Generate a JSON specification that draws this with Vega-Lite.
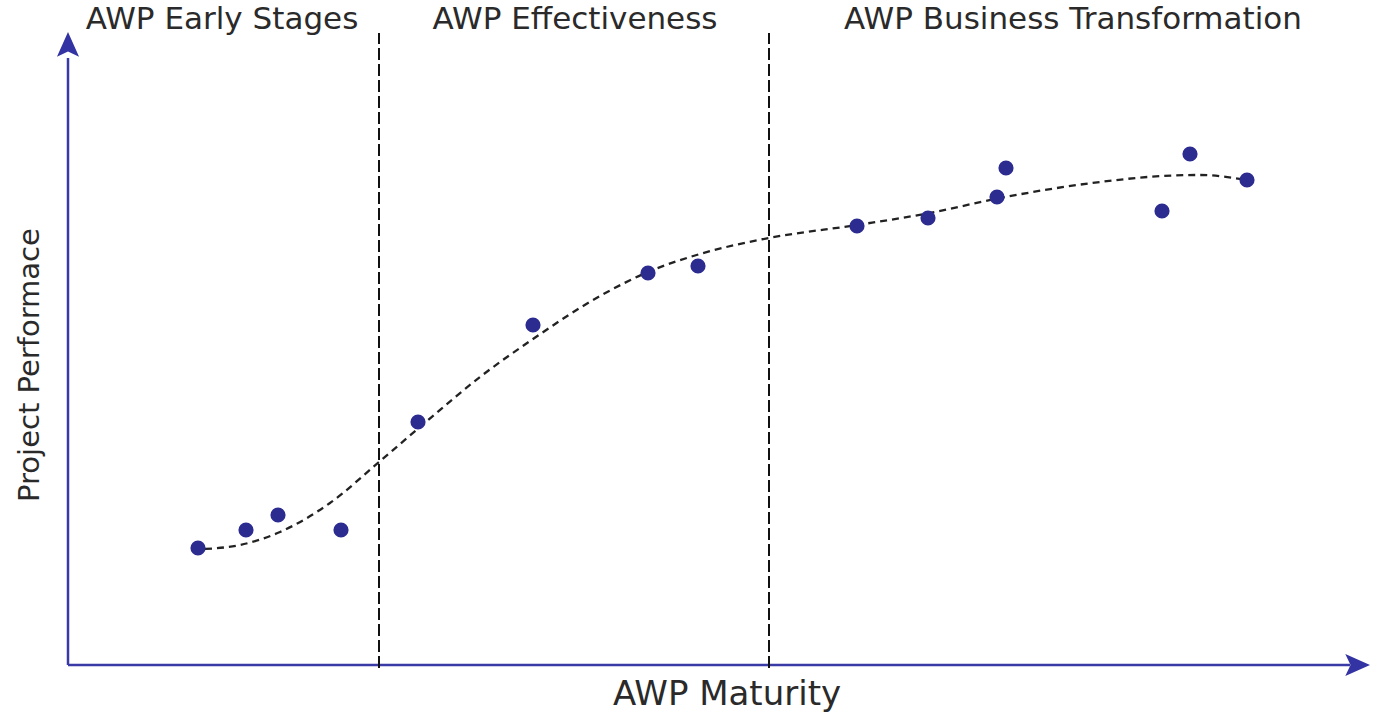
{
  "$schema": "https://vega.github.io/schema/vega-lite/v6.json",
  "width": 1381,
  "height": 715,
  "autosize": {"type": "fit", "contains": "padding"},
  "padding": 0,
  "background": "white",
  "config": {"view": {"stroke": null}},
  "datasets": {
    "points": [
      {"maturity": 13.0, "performance": 11.7},
      {"maturity": 17.8, "performance": 13.5},
      {"maturity": 21.0, "performance": 15.0},
      {"maturity": 27.3, "performance": 13.5},
      {"maturity": 35.0, "performance": 24.3},
      {"maturity": 46.5, "performance": 34.0},
      {"maturity": 58.0, "performance": 39.2},
      {"maturity": 63.0, "performance": 39.9},
      {"maturity": 78.9, "performance": 43.9},
      {"maturity": 86.0, "performance": 44.7},
      {"maturity": 92.9, "performance": 46.8},
      {"maturity": 93.8, "performance": 49.7},
      {"maturity": 109.4, "performance": 45.4},
      {"maturity": 112.2, "performance": 51.1},
      {"maturity": 117.9, "performance": 48.5}
    ],
    "trend": [
      {"maturity": 13.7, "performance": 11.6},
      {"maturity": 17.2, "performance": 12.0},
      {"maturity": 21.2, "performance": 13.3},
      {"maturity": 26.2, "performance": 16.2},
      {"maturity": 31.1, "performance": 20.3},
      {"maturity": 35.2, "performance": 23.8},
      {"maturity": 41.2, "performance": 28.8},
      {"maturity": 46.5, "performance": 32.6},
      {"maturity": 53.2, "performance": 36.9},
      {"maturity": 58.0, "performance": 39.3},
      {"maturity": 63.2, "performance": 41.1},
      {"maturity": 70.1, "performance": 42.7},
      {"maturity": 78.9, "performance": 44.0},
      {"maturity": 86.2, "performance": 45.2},
      {"maturity": 93.2, "performance": 46.7},
      {"maturity": 103.2, "performance": 48.3},
      {"maturity": 109.4, "performance": 48.9},
      {"maturity": 113.2, "performance": 49.0},
      {"maturity": 117.9, "performance": 48.5}
    ],
    "axes": [
      {"x": 0, "y": 0, "x2": 128.2, "y2": 0},
      {"x": 0, "y": 0, "x2": 0, "y2": 60.7}
    ],
    "arrows": [
      {"x": 0, "y": 62, "dir": "up"},
      {"x": 128.9, "y": 0, "dir": "right"}
    ],
    "dividers": [
      {"x": 31.1, "y": -0.3, "y2": 63.2},
      {"x": 70.1, "y": -0.3, "y2": 63.2}
    ],
    "stages": [
      {"label": "AWP Early Stages", "x": 15.4, "y": 64.5},
      {"label": "AWP Effectiveness", "x": 50.7, "y": 64.5},
      {"label": "AWP Business Transformation", "x": 100.5, "y": 64.5}
    ]
  },
  "layer": [
    {
      "data": {"name": "axes"},
      "mark": {"type": "rule", "color": "#3a3aa6", "strokeWidth": 2.5},
      "encoding": {
        "x": {"field": "x", "type": "quantitative", "scale": {"domain": [-6.8, 131.3], "nice": false, "zero": false}, "axis": null},
        "y": {"field": "y", "type": "quantitative", "scale": {"domain": [-5, 66.5], "nice": false, "zero": false}, "axis": null},
        "x2": {"field": "x2"},
        "y2": {"field": "y2"}
      }
    },
    {
      "data": {"name": "arrows"},
      "transform": [{"filter": "datum.dir === 'up'"}],
      "mark": {"type": "point", "filled": true, "opacity": 1, "color": "#3333a3", "size": 676, "shape": "M0,-1L0.85,0.9L0,0.5L-0.85,0.9Z"},
      "encoding": {
        "x": {"field": "x", "type": "quantitative"},
        "y": {"field": "y", "type": "quantitative"}
      }
    },
    {
      "data": {"name": "arrows"},
      "transform": [{"filter": "datum.dir === 'right'"}],
      "mark": {"type": "point", "filled": true, "opacity": 1, "color": "#3333a3", "size": 676, "shape": "M1,0L-0.9,0.85L-0.5,0L-0.9,-0.85Z"},
      "encoding": {
        "x": {"field": "x", "type": "quantitative"},
        "y": {"field": "y", "type": "quantitative"}
      }
    },
    {
      "data": {"name": "dividers"},
      "mark": {"type": "rule", "color": "#111111", "strokeWidth": 2, "strokeDash": [12, 4]},
      "encoding": {
        "x": {"field": "x", "type": "quantitative"},
        "y": {"field": "y", "type": "quantitative"},
        "y2": {"field": "y2"}
      }
    },
    {
      "data": {"name": "trend"},
      "mark": {"type": "line", "color": "#222222", "strokeWidth": 2.3, "strokeDash": [7, 5], "interpolate": "monotone"},
      "encoding": {
        "x": {"field": "maturity", "type": "quantitative"},
        "y": {"field": "performance", "type": "quantitative"}
      }
    },
    {
      "data": {"name": "points"},
      "mark": {"type": "circle", "color": "#2b2b90", "opacity": 1, "size": 230},
      "encoding": {
        "x": {"field": "maturity", "type": "quantitative"},
        "y": {"field": "performance", "type": "quantitative"}
      }
    },
    {
      "data": {"name": "stages"},
      "mark": {"type": "text", "font": "DejaVu Sans", "fontSize": 31, "color": "#2a2a2a", "align": "center", "baseline": "middle"},
      "encoding": {
        "x": {"field": "x", "type": "quantitative"},
        "y": {"field": "y", "type": "quantitative"},
        "text": {"field": "label"}
      }
    },
    {
      "data": {"values": [{"label": "AWP Maturity", "x": 65.9, "y": -3.0}]},
      "mark": {"type": "text", "font": "DejaVu Sans", "fontSize": 34, "color": "#2a2a2a", "align": "center", "baseline": "middle"},
      "encoding": {
        "x": {"field": "x", "type": "quantitative"},
        "y": {"field": "y", "type": "quantitative"},
        "text": {"field": "label"}
      }
    },
    {
      "data": {"values": [{"label": "Project Performace", "x": -3.8, "y": 30.0}]},
      "mark": {"type": "text", "font": "DejaVu Sans", "fontSize": 29, "color": "#2a2a2a", "align": "center", "baseline": "middle", "angle": 270},
      "encoding": {
        "x": {"field": "x", "type": "quantitative"},
        "y": {"field": "y", "type": "quantitative"},
        "text": {"field": "label"}
      }
    }
  ]
}
